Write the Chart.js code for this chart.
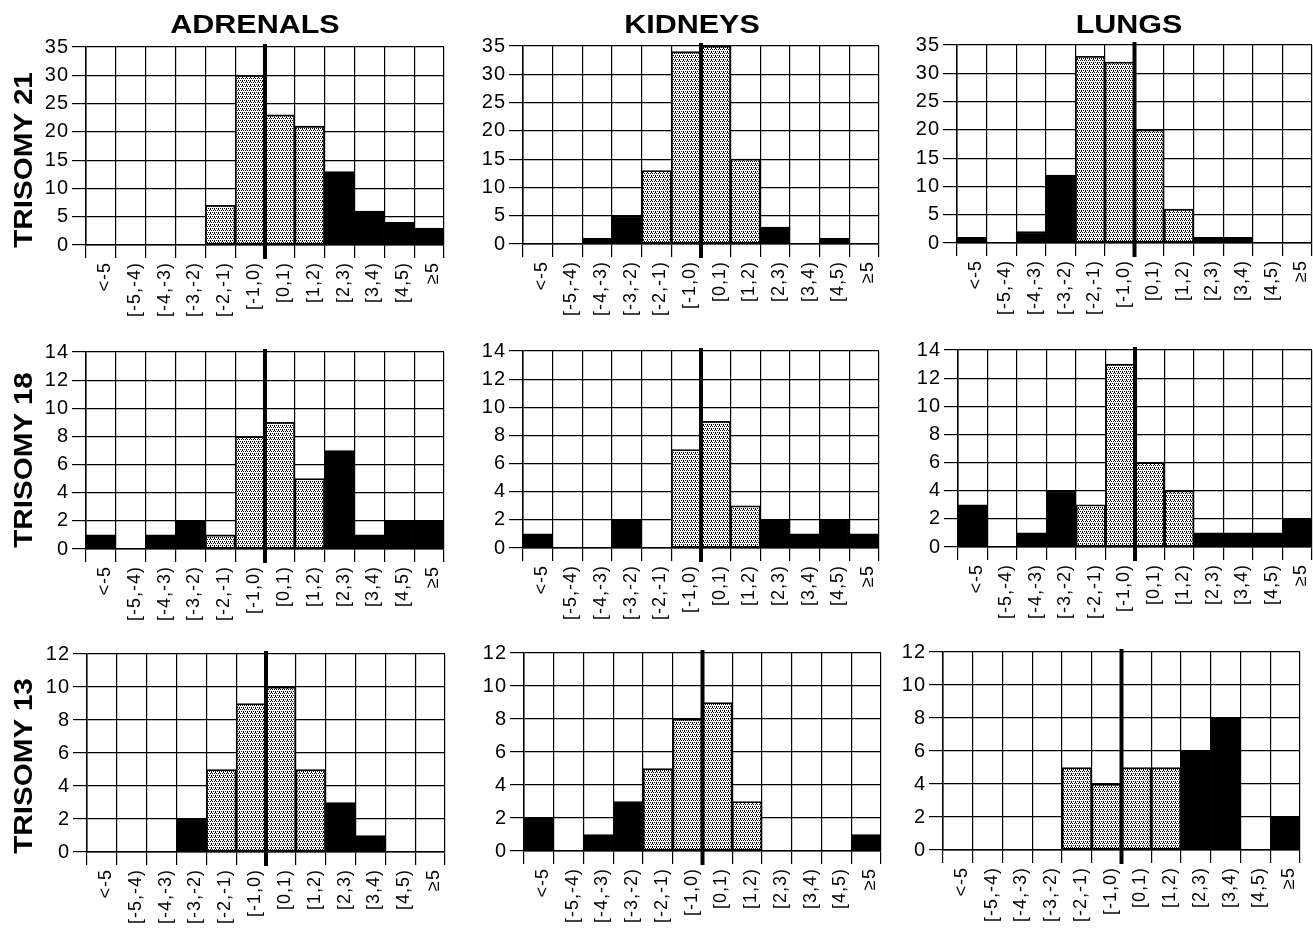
<!DOCTYPE html>
<html>
<head>
<meta charset="utf-8">
<script src="https://cdn.jsdelivr.net/npm/chart.js@4.4.1/dist/chart.umd.min.js"></script>
<style>
  body { margin: 0; background: #fff; width: 1313px; height: 930px; overflow: hidden; position: relative; }
  canvas { position: absolute; }
  .lbl { position: absolute; font-family: "Liberation Sans", Arial, Helvetica, sans-serif; font-weight: bold; color: #000; white-space: nowrap; line-height: 1; }
</style>
</head>
<body>
<script>
// bins of the histogram
const categories = ['<-5', '[-5,-4)', '[-4,-3)', '[-3,-2)', '[-2,-1)', '[-1,0)', '[0,1)', '[1,2)', '[2,3)', '[3,4)', '[4,5)', '≥5'];
const innerBins = ['[-2,-1)', '[-1,0)', '[0,1)', '[1,2)'];
const organs = ['ADRENALS', 'KIDNEYS', 'LUNGS'];
const trisomies = ['TRISOMY 21', 'TRISOMY 18', 'TRISOMY 13'];

// counts per bin
const t21Adrenals = [0, 0, 0, 0, 7, 30, 23, 21, 13, 6, 4, 3];
const t21Kidneys  = [0, 0, 1, 5, 13, 34, 35, 15, 3, 0, 1, 0];
const t21Lungs    = [1, 0, 2, 12, 33, 32, 20, 6, 1, 1, 0, 0];
const t18Adrenals = [1, 0, 1, 2, 1, 8, 9, 5, 7, 1, 2, 2];
const t18Kidneys  = [1, 0, 0, 2, 0, 7, 9, 3, 2, 1, 2, 1];
const t18Lungs    = [3, 0, 1, 4, 3, 13, 6, 4, 1, 1, 1, 2];
const t13Adrenals = [0, 0, 0, 2, 5, 9, 10, 5, 3, 1, 0, 0];
const t13Kidneys  = [2, 0, 1, 3, 5, 8, 9, 3, 0, 0, 0, 1];
const t13Lungs    = [0, 0, 0, 0, 5, 4, 5, 5, 6, 8, 0, 2];

// y axis per row
const yMax  = [35, 14, 12];
const yStep = [5, 2, 2];

const grid = [
  [t21Adrenals, t21Kidneys, t21Lungs],
  [t18Adrenals, t18Kidneys, t18Lungs],
  [t13Adrenals, t13Kidneys, t13Lungs]
];

// plot area boxes [left, right, top, bottom] of each panel on the page
const boxes = [
  [[86, 444, 46, 245], [523, 879, 45, 244], [957, 1312, 44, 243]],
  [[86, 444, 351, 549], [523, 879, 350, 548], [958, 1312, 349, 547]],
  [[87, 445, 653, 852], [524, 881, 652, 851], [943, 1300, 651, 850]]
];

const FONT = '"Liberation Sans", Arial, Helvetica, sans-serif';
const Y_W = 60, X_H = 85, PAD_T = 14, PAD_R = 14;

// stipple fill for the bars in [-2,2)
function makeStipple() {
  const c = document.createElement('canvas');
  c.width = 4; c.height = 4;
  const g = c.getContext('2d');
  g.fillStyle = '#fff';
  g.fillRect(0, 0, 4, 4);
  g.fillStyle = '#000';
  [[0, 0], [2, 0], [1, 2], [3, 2], [0, 1]].forEach(p => g.fillRect(p[0], p[1], 1, 1));
  return g.createPattern(c, 'repeat');
}

const spacing = {
  id: 'spacing',
  beforeUpdate(chart) { chart.ctx.letterSpacing = '1px'; },
  beforeDraw(chart) { chart.ctx.letterSpacing = '1px'; }
};

// thick line at zero, between [-1,0) and [0,1)
const zeroLine = {
  id: 'zeroLine',
  afterDraw(chart) {
    const x = chart.scales.x, a = chart.chartArea, ctx = chart.ctx;
    const i = categories.indexOf('[0,1)');
    const px = (x.getPixelForValue(i - 1) + x.getPixelForValue(i)) / 2;
    ctx.save();
    ctx.strokeStyle = '#000';
    ctx.lineWidth = 4;
    ctx.beginPath();
    ctx.moveTo(px, a.top - 3);
    ctx.lineTo(px, a.bottom + 14);
    ctx.stroke();
    ctx.restore();
  }
};

function addText(text, cx, cy, size, transform) {
  const d = document.createElement('div');
  d.className = 'lbl';
  d.textContent = text;
  d.style.fontSize = size + 'px';
  d.style.left = cx + 'px';
  d.style.top = cy + 'px';
  d.style.transform = 'translate(-50%,-50%) ' + transform;
  document.body.appendChild(d);
}

grid.forEach((row, r) => {
  row.forEach((values, c) => {
    const [L, R, T, B] = boxes[r][c];
    const cv = document.createElement('canvas');
    const w = R - L + Y_W + PAD_R, h = B - T + PAD_T + X_H;
    cv.width = w; cv.height = h;
    cv.style.left = (L - Y_W) + 'px';
    cv.style.top = (T - PAD_T) + 'px';
    cv.style.width = w + 'px';
    cv.style.height = h + 'px';
    document.body.appendChild(cv);
    const stipple = makeStipple();

    new Chart(cv.getContext('2d'), {
      type: 'bar',
      data: {
        labels: categories,
        datasets: [{
          data: values,
          backgroundColor: ctx => innerBins.includes(categories[ctx.dataIndex]) ? stipple : '#000',
          borderColor: '#000',
          borderWidth: 1.8,
          borderSkipped: false,
          barPercentage: 1,
          categoryPercentage: 1
        }]
      },
      options: {
        responsive: false,
        animation: false,
        devicePixelRatio: 1,
        layout: { padding: { top: PAD_T, right: PAD_R, left: 0, bottom: 0 } },
        plugins: { legend: { display: false }, tooltip: { enabled: false } },
        scales: {
          x: {
            afterFit(s) { s.height = X_H; },
            grid: { color: '#000', lineWidth: 1.2, tickLength: 13, offset: true },
            border: { color: '#000', width: 1.5 },
            ticks: {
              autoSkip: false, minRotation: 90, maxRotation: 90, padding: 4, labelOffset: 4,
              color: '#000', font: { family: FONT, size: 18 }
            }
          },
          y: {
            min: 0, max: yMax[r],
            afterFit(s) { s.width = Y_W; },
            grid: { color: '#000', lineWidth: 1.2, tickLength: 14 },
            border: { color: '#000', width: 1.5 },
            ticks: {
              stepSize: yStep[r], padding: 3,
              color: '#000', font: { family: FONT, size: 20 }
            }
          }
        }
      },
      plugins: [spacing, zeroLine]
    });
  });
});

// column titles and row labels
const titleX = [255, 692, 1129];
organs.forEach((t, i) => addText(t, titleX[i], 24, 25, 'scaleX(1.22)'));
const rowY = [160, 460, 766];
trisomies.forEach((t, i) => addText(t, 23, rowY[i], 26, 'rotate(-90deg) scaleX(1.14)'));
</script>
</body>
</html>
